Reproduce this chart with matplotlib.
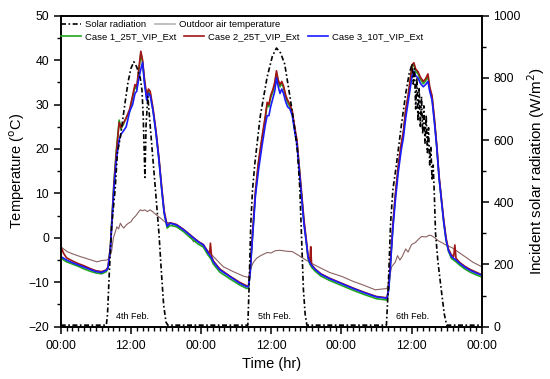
import matplotlib
matplotlib.use('Agg')
import matplotlib.pyplot as plt
from matplotlib.lines import Line2D
from matplotlib.ticker import MultipleLocator

plt.rcParams['font.family'] = ['Liberation Sans', 'DejaVu Sans']

# 时间 (hr) 与三种工况的外表面温度
t_case = [0, 0.5, 1, 2, 3, 4, 5, 6, 7, 7.8,
          8.1, 8.5, 8.8, 9.1, 9.5, 10.0, 10.3, 10.7, 11.2, 11.8,
          12.3, 12.7, 13.0, 13.3, 13.7, 14.0, 14.3, 14.7, 15.0, 15.3,
          15.8, 16.3, 16.8, 17.3, 17.7, 18.2, 18.7, 19.8, 21.0, 22.1,
          23.5, 24.4, 25.2, 25.45, 25.6, 25.8, 26.1, 27.2, 28.9, 30.6,
          31.8, 32.1, 32.4, 32.6, 32.8, 33.0, 33.3, 33.8, 34.4, 35.0,
          35.3, 35.6, 35.9, 36.3, 36.6, 36.9, 37.2, 37.5, 37.8, 38.1,
          38.5, 38.8, 39.2, 39.6, 40.0, 40.4, 40.8, 41.2, 41.6, 42.0,
          42.3, 42.6, 42.75, 42.9, 43.5, 44.5, 46, 48, 50, 52,
          54, 55.8, 56.1, 56.4, 56.8, 57.2, 57.7, 58.2, 58.6, 59.0,
          59.4, 59.8, 60.1, 60.4, 60.7, 61.1, 61.5, 62.0, 62.4, 62.8,
          63.1, 63.5, 63.9, 64.3, 64.7, 65.1, 65.5, 65.9, 66.3, 66.8,
          67.2, 67.4, 67.6, 68.2, 69.1, 70, 71, 72]

case1 = [-4.5, -5.0, -5.4, -5.9, -6.4, -7.0, -7.5, -7.9, -8.1, -7.6,
         -6.8, -2.0, 5.5, 12.5, 19.5, 26.5, 24.5, 25.5, 27.0, 28.5,
         31.5, 34.0, 33.5, 37.0, 41.5, 39.5, 35.5, 31.5, 33.0, 32.5,
         28.5, 23.5, 17.5, 10.5, 5.5, 2.2, 2.8, 2.5, 1.4, 0.1,
         -1.4, -2.1, -3.9, -4.3, -4.6, -5.0, -5.9, -7.7, -9.2, -10.6,
         -11.4, -11.3, -7.8, -3.3, 0.6, 4.6, 10.0, 16.5, 22.0, 27.0,
         30.0, 29.5, 31.5, 33.0, 34.5, 37.0, 35.0, 34.0, 34.8, 33.8,
         31.5, 30.5, 29.5, 28.0, 24.5, 21.5, 15.5, 9.5, 3.5, -1.0,
         -4.7, -5.9, -6.2, -6.6, -7.5, -8.6, -9.6, -10.7, -11.8, -12.8,
         -13.7, -14.0, -11.5, -5.5, 2.5, 9.0, 15.5, 20.5, 23.5, 28.5,
         31.5, 35.5, 38.5, 39.0, 37.5, 36.9, 35.7, 34.7, 35.3, 36.3,
         33.5, 31.5, 26.5, 20.5, 13.5, 8.5, 3.5, -0.5, -3.0, -4.6,
         -5.0, -5.2, -5.4, -6.1, -7.0, -7.7, -8.3, -8.8]

case2 = [-2.0, -3.5, -4.5, -5.2, -5.8, -6.3, -6.9, -7.4, -7.6, -7.2,
         -6.5, -2.0, 5.0, 12.0, 19.0, 26.0, 24.8, 25.8, 27.0, 29.0,
         32.0, 34.5, 34.0, 37.5, 42.0, 40.0, 36.0, 32.0, 33.5, 33.0,
         29.0, 24.0, 18.0, 11.0, 6.0, 2.8, 3.4, 3.0, 1.9, 0.7,
         -0.8, -1.5, -3.2, -3.6, -1.2, -4.2, -5.2, -7.0, -8.6, -10.0,
         -10.8, -10.9, -7.5, -3.0, 1.0, 5.0, 10.5, 17.0, 22.5, 27.5,
         30.5, 30.0, 32.0, 33.5, 35.0, 37.6, 35.5, 34.5, 35.2, 34.2,
         32.0, 31.0, 30.0, 28.5, 25.0, 22.0, 16.0, 10.0, 4.0, -0.5,
         -4.2, -5.5, -2.0, -6.0, -7.0, -8.1, -9.1, -10.2, -11.3, -12.3,
         -13.2, -13.5, -11.0, -5.0, 3.0, 9.5, 16.0, 21.0, 24.0, 29.0,
         32.0, 36.0, 39.0, 39.4, 38.0, 37.4, 36.2, 35.2, 35.8, 36.9,
         34.0, 32.0, 27.0, 21.0, 14.0, 9.0, 4.0, 0.0, -2.5, -3.8,
         -4.2, -1.6, -4.6, -5.5, -6.4, -7.1, -7.7, -8.3]

case3 = [-4.2, -4.6, -5.0, -5.6, -6.1, -6.6, -7.1, -7.6, -7.8, -7.3,
         -6.7, -2.5, 4.5, 11.0, 17.5, 22.0, 23.3, 24.0, 25.0, 28.5,
         30.0, 32.5, 33.0, 35.5, 38.0, 39.5, 35.0, 31.0, 32.5, 32.0,
         28.5, 23.5, 17.5, 10.5, 5.5, 2.6, 3.3, 2.9, 1.8, 0.6,
         -0.9, -1.6, -3.4, -3.8, -4.1, -4.5, -5.4, -7.2, -8.7, -10.2,
         -11.0, -11.0, -8.0, -3.8, 0.0, 4.0, 9.5, 15.0, 20.5, 25.5,
         27.5, 27.5, 29.5, 31.5, 33.0, 36.0, 34.0, 32.5, 33.5, 32.5,
         30.5, 29.5, 29.0, 27.5, 24.0, 21.0, 15.0, 9.0, 3.0, -1.0,
         -4.3, -5.6, -5.9, -6.2, -7.1, -8.2, -9.2, -10.3, -11.4, -12.4,
         -13.3, -13.6, -11.5, -6.0, 2.0, 8.0, 14.5, 19.5, 22.5, 27.0,
         30.5, 34.0, 36.5, 37.5, 36.5, 36.0, 34.8, 34.0, 34.5, 35.2,
         33.0, 31.0, 26.0, 20.5, 13.5, 8.5, 3.5, -0.5, -2.8, -4.2,
         -4.6, -4.8, -5.0, -5.7, -6.6, -7.3, -7.9, -8.4]

# 室外空气温度
t_air = [0, 1.1, 2, 3.3, 4.5, 6.2, 7.0, 7.9, 8.3, 8.7,
         9.0, 9.3, 9.6, 9.9, 10.2, 10.5, 10.8, 11.2, 11.6, 12.0,
         12.4, 12.8, 13.2, 13.6, 14.0, 14.4, 14.8, 15.3, 15.8, 16.4,
         17.1, 17.8, 18.7, 19.5, 20.4, 21.5, 22.2, 22.7, 23.2, 23.8,
         25.0, 26.4, 27.8, 29.5, 31.2, 32.1, 32.4, 32.9, 33.5, 34.2,
         35.3, 36.0, 36.7, 37.5, 38.5, 39.6, 40.5, 41.8, 43.0, 44.0,
         46.0, 48.1, 50.0, 51.5, 53.8, 55.8, 56.2, 56.6, 57.2, 57.6,
         58.0, 58.4, 59.0, 59.4, 60.0, 60.6, 61.2, 61.7, 62.5, 63.0,
         63.4, 64.0, 64.5, 65.2, 66.0, 66.9, 68.0, 69.1, 70.5, 72]

air = [-2.0, -3.1, -3.6, -4.2, -4.7, -5.4, -5.1, -5.0, -4.6, -3.0,
       0.0, 1.2, 2.5, 2.0, 3.3, 2.6, 2.2, 2.9, 3.3, 3.6,
       4.4, 4.9, 5.6, 6.3, 6.1, 6.3, 5.9, 6.3, 5.8, 5.1,
       4.4, 3.6, 3.3, 2.9, 2.5, 1.4, 0.5, -0.9, -0.4, -1.2,
       -2.7, -4.6, -6.5, -7.6, -8.6, -8.9, -7.2, -5.6, -4.6, -4.0,
       -3.3, -3.4, -2.9, -2.8, -3.0, -3.1, -3.8, -4.9, -5.8, -6.5,
       -7.8, -8.7, -9.8, -10.5, -11.7, -11.4, -9.0, -6.5, -5.5, -4.0,
       -5.0, -4.2, -2.5, -3.2, -1.5, -1.1, -0.3, 0.3, 0.2, 0.6,
       0.5, 0.0, -0.6, -1.1, -1.7, -2.2, -3.2, -4.2, -5.5, -6.5]

# 太阳辐射 (W/m2)
t_sun = [0, 7.8, 8.0, 8.3, 8.7, 9.3, 9.7, 10.2, 11.0, 11.5,
         12.0, 12.5, 13.0, 13.6, 13.9, 14.1, 14.4, 14.6, 14.9, 15.5,
         16.2, 16.8, 17.2, 17.6, 18.0, 18.3, 32.0, 32.2, 32.5, 32.8,
         33.2, 34.1, 35.3, 36.2, 36.9, 37.6, 38.3, 39.2, 40.0, 40.5,
         40.9, 41.2, 41.5, 41.8, 42.1, 55.7, 56.0, 56.4, 56.8, 57.4,
         58.2, 59.0, 59.6, 60.1, 60.3, 60.5, 60.7, 60.9, 61.1, 61.3,
         61.5, 61.7, 61.9, 62.1, 62.3, 62.5, 62.7, 62.9, 63.1, 63.3,
         63.5, 63.7, 63.9, 64.1, 64.5, 65.1, 65.6, 66.0, 72]

sun = [5, 5, 40, 170, 320, 440, 560, 610, 720, 785,
       830, 852, 835, 800, 760, 680, 480, 650, 740, 600,
       440, 300, 180, 70, 15, 5, 5, 120, 330, 440,
       525, 674, 803, 870, 896, 880, 845, 740, 640, 560,
       440, 280, 120, 40, 5, 5, 120, 330, 440, 520,
       640, 750, 815, 845, 780, 830, 700, 800, 660, 770,
       640, 740, 620, 710, 590, 680, 560, 640, 520, 580,
       470, 520, 420, 300, 210, 115, 40, 5, 5]

day_labels = ['4th Feb.', '5th Feb.', '6th Feb.']
day_pos = [12.3, 36.5, 60.2]

fig = plt.figure(figsize=(5.5, 3.79), dpi=100)
ax = fig.add_axes([0.1104, 0.138, 0.7655, 0.8206])
ax2 = ax.twinx()

ax.plot(t_air, air, color='#8c6262', lw=0.8)
l1, = ax.plot(t_case, case1, color='#1fa51f', lw=1.2)
l2, = ax.plot(t_case, case2, color='#a01515', lw=1.2)
l3, = ax.plot(t_case, case3, color='#1a1aff', lw=1.2)
ls, = ax2.plot(t_sun, sun, color='black', lw=1.2, dashes=(3, 1.5, 1, 1.5))

ax.set_xlim(0, 72)
ax.set_ylim(-20, 50)
ax2.set_ylim(0, 1000)

ax.set_xticks(range(0, 73, 12))
ax.set_xticklabels(['00:00', '12:00'] * 3 + ['00:00'])
ax.xaxis.set_minor_locator(MultipleLocator(1))
ax.yaxis.set_major_locator(MultipleLocator(10))
ax.yaxis.set_minor_locator(MultipleLocator(5))
ax2.yaxis.set_major_locator(MultipleLocator(200))
ax2.yaxis.set_minor_locator(MultipleLocator(100))

for a in (ax, ax2):
    a.tick_params(which='major', direction='out', length=5, width=1.1, labelsize=8.8)
    a.tick_params(which='minor', direction='out', length=3, width=1.0)
    for s in a.spines.values():
        s.set_linewidth(1.2)
ax.tick_params(axis='x', pad=4.5)

ax.set_xlabel('Time (hr)', fontsize=10.5, labelpad=4)
ax.set_ylabel('Temperature ($^\\mathrm{o}$C)', fontsize=10.5, labelpad=1)
ax2.set_ylabel('Incident solar radiation (W/m$^\\mathrm{2}$)', fontsize=11, labelpad=3)

for lab, xp in zip(day_labels, day_pos):
    ax.text(xp, -17.6, lab, fontsize=6.5, ha='center', va='center')

air_proxy = Line2D([], [], color='#b4b4b4', lw=1.2)
leg1 = ax2.legend([ls, air_proxy], ['Solar radiation', 'Outdoor air temperature'],
                  loc='center left', bbox_to_anchor=(0.0, 0.972), ncol=2, frameon=False,
                  fontsize=6.8, borderpad=0, borderaxespad=0, handlelength=2.1,
                  handletextpad=0.42, columnspacing=1.0)
ax2.add_artist(leg1)
ax2.legend([l1, l2, l3], ['Case 1_25T_VIP_Ext', 'Case 2_25T_VIP_Ext', 'Case 3_10T_VIP_Ext'],
           loc='center left', bbox_to_anchor=(0.0, 0.9325), ncol=3, frameon=False,
           fontsize=6.8, borderpad=0, borderaxespad=0, handlelength=2.1,
           handletextpad=0.42, columnspacing=0.9)

fig.savefig('out.png', dpi=100)
